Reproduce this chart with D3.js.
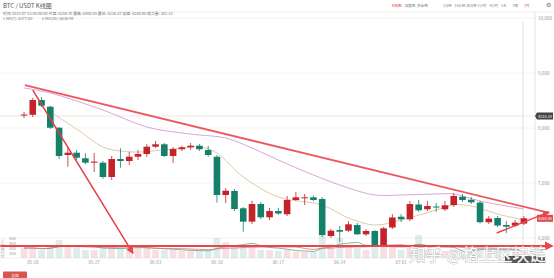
<!DOCTYPE html>
<html><head><meta charset="utf-8">
<script src="https://cdn.jsdelivr.net/npm/d3@7"></script>
<style>body{margin:0;background:#fff}svg{display:block;font-family:"Noto Sans CJK SC","Noto Sans",sans-serif}</style>
</head><body><svg id="c" width="554" height="278"></svg>
<script>
const dates = ["2018-05-19","2018-05-20","2018-05-21","2018-05-22","2018-05-23","2018-05-24","2018-05-25","2018-05-26","2018-05-27","2018-05-28","2018-05-29","2018-05-30","2018-05-31",
"2018-06-01","2018-06-02","2018-06-03","2018-06-04","2018-06-05","2018-06-06","2018-06-07","2018-06-08","2018-06-09","2018-06-10","2018-06-11","2018-06-12","2018-06-13","2018-06-14","2018-06-15","2018-06-16","2018-06-17","2018-06-18","2018-06-19","2018-06-20","2018-06-21","2018-06-22","2018-06-23","2018-06-24","2018-06-25","2018-06-26","2018-06-27","2018-06-28","2018-06-29","2018-06-30",
"2018-07-01","2018-07-02","2018-07-03","2018-07-04","2018-07-05","2018-07-06","2018-07-07","2018-07-08","2018-07-09","2018-07-10","2018-07-11","2018-07-12","2018-07-13","2018-07-14","2018-07-15"];
const open  = [8230,8240,8509,8387,8005,7509,7551,7449,7370,7369,7109,7436,7400,7478,7527,7660,7704,7491,7613,7649,7678,7600,7478,6782,6855,6540,6297,6618,6376,6491,6432,6691,6722,6740,6709,6036,6145,6133,6236,6067,6127,5864,6191,6387,6340,6609,6522,6573,6522,6600,6751,6696,6645,6287,6364,6236,6224,6262];
const high  = [8291,8551,8563,8405,8018,7660,7600,7540,7545,7400,7491,7631,7569,7600,7709,7764,7727,7654,7678,7727,7709,7673,7509,6909,6891,6564,6678,6655,6546,6546,6764,6836,6800,6773,6745,6164,6218,6309,6273,6164,6145,6200,6436,6436,6673,6691,6673,6636,6673,6818,6800,6745,6673,6400,6400,6309,6327,6400];
const low   = [8182,8200,8382,7982,7436,7296,7418,7340,7200,7073,7055,7278,7327,7418,7473,7636,7473,7364,7582,7605,7582,7478,6642,6636,6491,6115,6255,6345,6327,6418,6400,6673,6600,6673,6020,6000,5930,6109,6055,6036,5836,5836,6164,6291,6309,6473,6491,6473,6491,6564,6655,6618,6264,6255,6200,6091,6200,6236];
const close = [8245,8509,8405,8005,7491,7551,7460,7369,7390,7109,7436,7400,7478,7527,7660,7704,7491,7618,7649,7678,7613,7509,6782,6860,6527,6297,6618,6376,6491,6446,6691,6740,6740,6691,6055,6133,6115,6249,6067,6127,5873,6176,6373,6340,6618,6504,6582,6555,6595,6764,6691,6649,6287,6353,6227,6206,6279,6358];
const volume= [400,400,320,440,720,520,440,320,320,400,440,400,440,400,400,320,320,320,280,280,280,280,800,640,440,520,520,320,320,280,320,240,240,240,920,560,800,440,400,320,520,600,440,320,480,920,320,240,280,360,280,280,480,360,360,320,240,280];
// moving averages (index into dates, price)
const ma7Idx = [3,6,9,11,13,17,20,22,25,29,34,37,40,43,47,49,51,54,57];
const ma7Val = [8291,7982,7655,7582,7564,7618,7655,7545,7109,6746,6600,6364,6236,6327,6509,6600,6582,6436,6327];
const ma30Idx = [0,3,9,14,18,20,23,26,29,33,37,40,43,47,49,52,57];
const ma30Val = [8727,8636,8327,8018,7909,7873,7818,7636,7418,7145,6909,6782,6782,6800,6800,6673,6527];
const priceTicks = [10000,9000,8000,7000,6000];
const dateTicks = ["2018-05-20","2018-05-27","2018-06-03","2018-06-10","2018-06-17","2018-06-24","2018-07-01"];
const volTicks = [200,400,600,800];
const periods = ["1分钟","15分钟","30分钟","1小时","4小时","1天","1周","1月"];
const views = ["K线图","深度图","资金图"];
// hand drawn annotations (index position, price)
const trendTop = [[0.1,8780],[59.9,6455]];
const arrowDown = [[1.0,8690],[12.4,5730]];
const arrowFlat = [[-2.7,5855],[60.2,5855]];
const riseLine = [[53.9,6091],[59.8,6470]];
const crossPrice = 8218.18;

const svg = d3.select("#c");
const RED="#c4232a", GREEN="#14806a";
const x = d3.scalePoint().domain(dates).range([24,523.9]);
const xi = d3.scaleLinear().domain([0,dates.length-1]).range([24,523.9]);
const y = d3.scaleLinear().domain([6000,10000]).range([238,18]);
const yv = d3.scaleLinear().domain([0,800]).range([258,238]);
const fmt = d3.format(",");

// grid
svg.append("g").selectAll("line").data(priceTicks).join("line")
  .attr("x1",0).attr("x2",535).attr("y1",d=>y(d)).attr("y2",d=>y(d))
  .attr("stroke","#f1f1f1").attr("stroke-width",0.8);
svg.append("line").attr("x1",0).attr("x2",554).attr("y1",12).attr("y2",12).attr("stroke","#eee").attr("stroke-width",0.8);
svg.append("line").attr("x1",535).attr("x2",535).attr("y1",12).attr("y2",258).attr("stroke","#ddd").attr("stroke-width",0.8);
svg.append("line").attr("x1",0).attr("x2",535).attr("y1",258).attr("y2",258).attr("stroke","#eee").attr("stroke-width",0.8);
// crosshair
svg.append("line").attr("x1",x(dates[57])-1).attr("x2",x(dates[57])-1).attr("y1",22).attr("y2",258).attr("stroke","#d8d8d8").attr("stroke-width",0.8);
svg.append("line").attr("x1",0).attr("x2",535).attr("y1",y(crossPrice)).attr("y2",y(crossPrice)).attr("stroke","#e2e2e2").attr("stroke-width",0.8);

// y axis labels
svg.append("g").selectAll("text").data(priceTicks).join("text")
  .attr("x",538).attr("y",d=>y(d)+1.5).attr("font-size",4.6).attr("fill","#999").text(d=>fmt(d));

// volume
const vg = svg.append("g");
vg.selectAll("rect").data(dates).join("rect")
  .attr("x",d=>x(d)-3.4).attr("width",6.8)
  .attr("y",(d,i)=>yv(volume[i])).attr("height",(d,i)=>yv(0)-yv(volume[i]))
  .attr("fill",(d,i)=>close[i]>=open[i]?RED:GREEN).attr("fill-opacity",0.14);
function volMA(n){return dates.map((d,i)=>[x(d), d3.mean(volume.slice(Math.max(0,i-n+1),i+1))]);}
vg.append("path").attr("d",d3.line().x(d=>d[0]).y(d=>yv(d[1])).curve(d3.curveMonotoneX)(volMA(5)))
  .attr("fill","none").attr("stroke","#5fa983").attr("stroke-width",0.8);
vg.append("path").attr("d",d3.line().x(d=>d[0]).y(d=>yv(d[1])).curve(d3.curveMonotoneX)(volMA(10)))
  .attr("fill","none").attr("stroke","#e07077").attr("stroke-width",0.8);
vg.selectAll("text.vt").data(volTicks).join("text").attr("class","vt")
  .attr("x",16).attr("y",d=>yv(d)+1.5).attr("text-anchor","end").attr("font-size",4).attr("fill","#999").text(d=>d);
vg.append("text").attr("transform","translate(3.5,248) rotate(-90)").attr("text-anchor","middle")
  .attr("font-size",3.6).attr("fill","#aaa").text("成交量(BTC)");

// MA lines
const lineP = d3.line().x(d=>xi(d[0])).y(d=>y(d[1])).curve(d3.curveCatmullRom);
svg.append("path").attr("d",lineP(ma30Idx.map((d,i)=>[d,ma30Val[i]])))
  .attr("fill","none").attr("stroke","#d79ad2").attr("stroke-width",0.9);
svg.append("path").attr("d",lineP(ma7Idx.map((d,i)=>[d,ma7Val[i]])))
  .attr("fill","none").attr("stroke","#ddc29d").attr("stroke-width",0.9);

// candles
const cg = svg.append("g");
cg.selectAll("line").data(dates).join("line")
  .attr("x1",d=>x(d)).attr("x2",d=>x(d))
  .attr("y1",(d,i)=>y(high[i])).attr("y2",(d,i)=>y(low[i]))
  .attr("stroke",(d,i)=>close[i]>=open[i]?RED:GREEN).attr("stroke-width",0.8);
cg.selectAll("rect").data(dates).join("rect")
  .attr("x",d=>x(d)-3.3).attr("width",6.6)
  .attr("y",(d,i)=>y(Math.max(open[i],close[i])))
  .attr("height",(d,i)=>Math.max(1,Math.abs(y(open[i])-y(close[i]))))
  .attr("fill",(d,i)=>close[i]>=open[i]?RED:GREEN);

// annotations
const defs = svg.append("defs");
defs.append("marker").attr("id","ah").attr("viewBox","0 0 10 10").attr("refX",8).attr("refY",5)
  .attr("markerWidth",5).attr("markerHeight",5).attr("orient","auto-start-reverse")
  .append("path").attr("d","M0,0L10,5L0,10z").attr("fill","#e8464d");
const la = d3.line().x(d=>xi(d[0])).y(d=>y(d[1]));
svg.append("path").attr("d",la(trendTop)).attr("stroke","#e8464d").attr("stroke-width",1.8).attr("fill","none").attr("stroke-opacity",0.9);
svg.append("path").attr("d",la(arrowDown)).attr("stroke","#e23e45").attr("stroke-width",1.5).attr("fill","none").attr("marker-end","url(#ah)");
svg.append("path").attr("d",la(arrowFlat)).attr("stroke","#e8464d").attr("stroke-width",1.8).attr("fill","none").attr("marker-end","url(#ah)");
svg.append("path").attr("d",la(riseLine)).attr("stroke","#e8464d").attr("stroke-width",1.4).attr("fill","none").attr("marker-end","url(#ah)");

// price tags
const lastP = close[close.length-1];
svg.append("rect").attr("x",537).attr("y",y(lastP)-3.5).attr("width",16).attr("height",7).attr("fill","#e0474d");
svg.append("text").attr("x",545).attr("y",y(lastP)+1.5).attr("text-anchor","middle").attr("font-size",3.8).attr("fill","#fff").text(d3.format(".2f")(lastP));
svg.append("path").attr("d",`M535,${y(crossPrice)}l2,-3.5h16v7h-16z`).attr("fill","#444");
svg.append("text").attr("x",545).attr("y",y(crossPrice)+1.5).attr("text-anchor","middle").attr("font-size",3.8).attr("fill","#fff").text(d3.format(".2f")(crossPrice));

// x labels
svg.append("g").selectAll("text").data(dateTicks).join("text")
  .attr("x",d=>x(d)).attr("y",264).attr("text-anchor","middle").attr("font-size",4.4).attr("fill","#999")
  .text(d=>d.slice(5));

// header
svg.append("text").attr("x",3).attr("y",8).attr("font-size",6).attr("fill","#555").text("BTC / USDT K线图");
svg.append("text").attr("x",3).attr("y",14.5).attr("font-size",3.9).attr("fill","#777")
  .text("时间 2018-07-15 08:00:00 开盘: 6259.78 最高: 6400.85 最低: 6236.47 收盘: 6340.90 成交量: 302.33");
const lg = svg.append("g").attr("font-size",3.9).attr("fill","#777");
lg.append("circle").attr("cx",4).attr("cy",18.7).attr("r",1).attr("fill","#ddc29d");
lg.append("text").attr("x",6).attr("y",20).text("MA(7): 6377.50");
lg.append("circle").attr("cx",43).attr("cy",18.7).attr("r",1).attr("fill","#d79ad2");
lg.append("text").attr("x",45).attr("y",20).text("MA(30): 6536.98");

// top right controls
svg.append("g").selectAll("text").data(views).join("text")
  .attr("x",(d,i)=>392+i*12.5).attr("y",6.5).attr("font-size",3.6)
  .attr("fill",(d,i)=>i===0?"#e0474d":"#777").text(d=>d);
svg.append("g").selectAll("text").data(periods).join("text")
  .attr("x",(d,i)=>443+i*11.6).attr("y",6.5).attr("font-size",3.4)
  .attr("fill",(d,i)=>i===periods.length-1?"#e0474d":"#777").text(d=>d);
svg.append("text").attr("x",548).attr("y",7).attr("text-anchor","middle").attr("font-size",6).attr("fill","#777").text("⚙");

// bottom-left button
svg.append("rect").attr("x",3).attr("y",271.5).attr("width",24).attr("height",8).attr("rx",1).attr("fill","#d9534f");
svg.append("text").attr("x",15).attr("y",276.5).attr("text-anchor","middle").attr("font-size",3.8).attr("fill","#fff").text("全部");

// watermark
svg.append("rect").attr("x",505).attr("y",256).attr("width",40).attr("height",7).attr("fill","#3a3a3a").attr("opacity",0.85);
svg.append("text").attr("x",409).attr("y",261).attr("font-size",16.8).attr("fill","#fff")
  .attr("stroke","#9a9a9a").attr("stroke-width",0.6).attr("paint-order","stroke")
  .text("知乎 @格上区块链");
</script></body></html>
